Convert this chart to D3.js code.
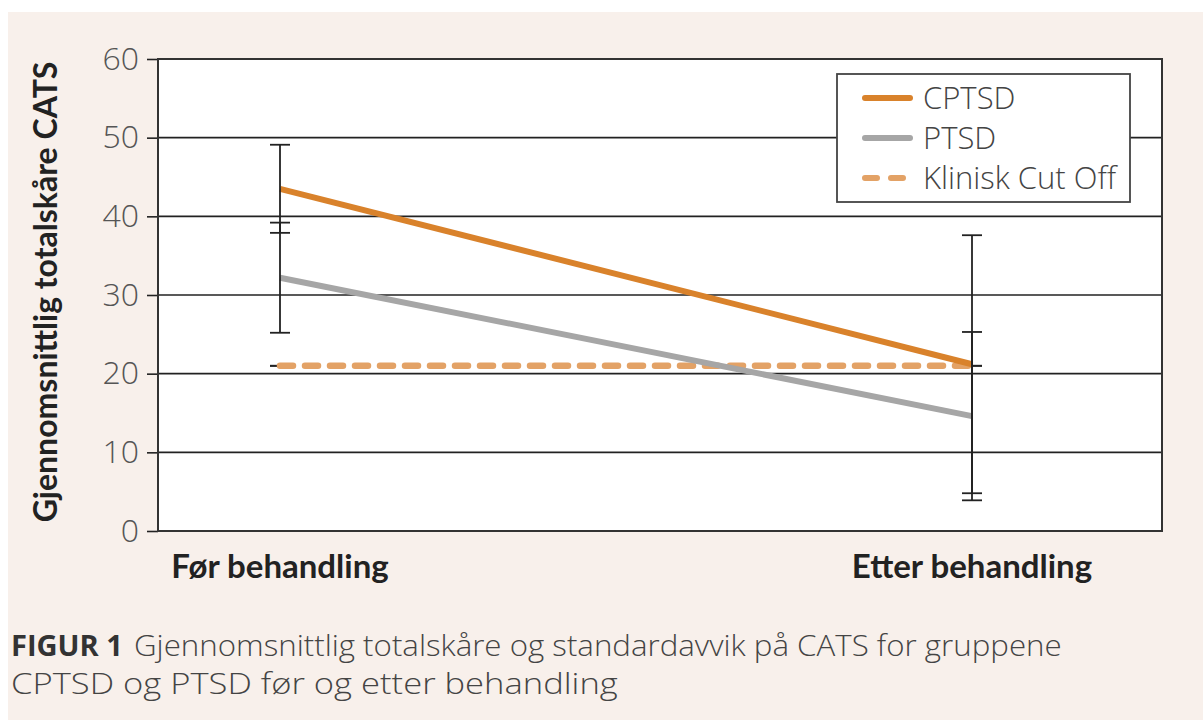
<!DOCTYPE html>
<html><head><meta charset="utf-8">
<script src="https://cdn.jsdelivr.net/npm/d3@7"></script>
<style>
html,body{margin:0;padding:0;background:#fff;}
svg{display:block;}
</style></head>
<body>
<svg id="chart" width="1203" height="720"></svg>
<script>
// ---- data ----
const categories = ["Før behandling", "Etter behandling"];
const cptsdMean = [43.5, 21.2];
const cptsdSD   = [5.6, 16.4];
const ptsdMean  = [32.2, 14.6];
const ptsdSD    = [7.0, 10.7];
const cutoff    = [21, 21];
const yTicks    = [0, 10, 20, 30, 40, 50, 60];
const legendLabels = ["CPTSD", "PTSD", "Klinisk Cut Off"];
const yTitle = "Gjennomsnittlig totalskåre CATS";
const captionBold = "FIGUR 1";
const captionLine1 = "Gjennomsnittlig totalskåre og standardavvik på CATS for gruppene";
const captionLine2 = "CPTSD og PTSD før og etter behandling";

const svg = d3.select("#chart");
const bg = "#f8f0eb";
svg.append("rect").attr("x",8).attr("y",12).attr("width",1195).attr("height",708).attr("fill",bg);

const plot = {l:158, r:1162, t:59, b:531};
const y = d3.scaleLinear().domain([0,60]).range([plot.b, plot.t]);
const x = d3.scalePoint().domain(categories).range([280, 972]);

// plot background
svg.append("rect").attr("x",plot.l).attr("y",plot.t).attr("width",plot.r-plot.l).attr("height",plot.b-plot.t).attr("fill","#fff");

// gridlines
svg.append("g").selectAll("line").data(yTicks).join("line")
  .attr("x1",plot.l).attr("x2",plot.r)
  .attr("y1",d=>y(d)).attr("y2",d=>y(d))
  .attr("stroke","#222").attr("stroke-width",1.6);

// y axis
const yAxis = d3.axisLeft(y).tickValues(yTicks).tickSize(11).tickPadding(8);
const ga = svg.append("g").attr("transform",`translate(${plot.l},0)`).call(yAxis);
ga.select(".domain").remove();
ga.selectAll(".tick line").attr("stroke","#222").attr("stroke-width",1.6);
ga.selectAll(".tick text").attr("font-family","'Open Sans', sans-serif").attr("font-weight",300)
  .attr("font-size",32).attr("fill","#555");

// plot border
svg.append("rect").attr("x",plot.l).attr("y",plot.t).attr("width",plot.r-plot.l).attr("height",plot.b-plot.t)
  .attr("fill","none").attr("stroke","#333").attr("stroke-width",2);

// series
const series = [
  {name:legendLabels[0], mean:cptsdMean, sd:cptsdSD, color:"#d9822b", dash:null},
  {name:legendLabels[1], mean:ptsdMean, sd:ptsdSD, color:"#a6a6a6", dash:null},
  {name:legendLabels[2], mean:cutoff, sd:[0,0], color:"#e3a266", dash:"13,12"}
];

const capW = 20;
function drawErr(g, s){
  categories.forEach((c,i)=>{
    const cx = x(c), hi = y(s.mean[i]+s.sd[i]), lo = y(s.mean[i]-s.sd[i]);
    g.append("line").attr("x1",cx).attr("x2",cx).attr("y1",hi).attr("y2",lo);
    g.append("line").attr("x1",cx-capW/2).attr("x2",cx+capW/2).attr("y1",hi).attr("y2",hi);
    g.append("line").attr("x1",cx-capW/2).attr("x2",cx+capW/2).attr("y1",lo).attr("y2",lo);
  });
}
const gErrLow = svg.append("g").attr("stroke","#222").attr("stroke-width",1.8);
drawErr(gErrLow, series[2]);

const line = d3.line().x((d,i)=>x(categories[i])).y(d=>y(d));
series.slice().reverse().forEach(s=>{
  svg.append("path").attr("d",line(s.mean)).attr("fill","none")
    .attr("stroke",s.color).attr("stroke-width",s.dash?6.5:6)
    .attr("stroke-dasharray",s.dash).attr("stroke-linecap",s.dash?"round":"butt");
});

const gErr = svg.append("g").attr("stroke","#222").attr("stroke-width",1.8);
drawErr(gErr, series[0]);
drawErr(gErr, series[1]);

// legend
const lg = svg.append("g");
lg.append("rect").attr("x",837).attr("y",74).attr("width",293).attr("height",128)
  .attr("fill","#fff").attr("stroke","#444").attr("stroke-width",1.8);
series.forEach((s,i)=>{
  const ly = 98 + i*40;
  lg.append("line").attr("x1",865).attr("x2",s.dash?905:910).attr("y1",ly).attr("y2",ly)
    .attr("stroke",s.color).attr("stroke-width",6).attr("stroke-linecap","round")
    .attr("stroke-dasharray",s.dash?"12,14":null);
  lg.append("text").attr("x",923).attr("y",ly+11).text(s.name)
    .attr("font-family","'Open Sans', sans-serif").attr("font-weight",300)
    .attr("font-size",31).attr("fill","#444");
});

// x labels
svg.append("g").selectAll("text").data(categories).join("text")
  .attr("x",d=>x(d)).attr("y",578).attr("text-anchor","middle").text(d=>d)
  .attr("font-family","Lato, sans-serif").attr("font-weight",700).attr("font-size",33).attr("fill","#222");

// y title
svg.append("text").attr("transform","translate(57,292) rotate(-90)").attr("text-anchor","middle")
  .text(yTitle).attr("font-family","Lato, sans-serif").attr("font-weight",700).attr("font-size",32).attr("fill","#222");

// caption: separate text pieces, horizontally scaled to the reference widths
const capFont = "'Open Sans', sans-serif";
function fitText(str, xPos, yPos, targetW, weight, fill){
  const t = svg.append("text").attr("x",0).attr("y",0).text(str)
    .attr("font-family",capFont).attr("font-weight",weight).attr("font-size",27).attr("fill",fill);
  const w = t.node().getComputedTextLength();
  t.attr("transform",`translate(${xPos},${yPos}) scale(${targetW/w},1.08)`);
  return t;
}
fitText(captionBold, 11, 656, 112, 700, "#333");
fitText(captionLine1, 134, 656, 928, 300, "#444");
fitText(captionLine2, 11, 694, 607, 300, "#444");
</script>
</body></html>
